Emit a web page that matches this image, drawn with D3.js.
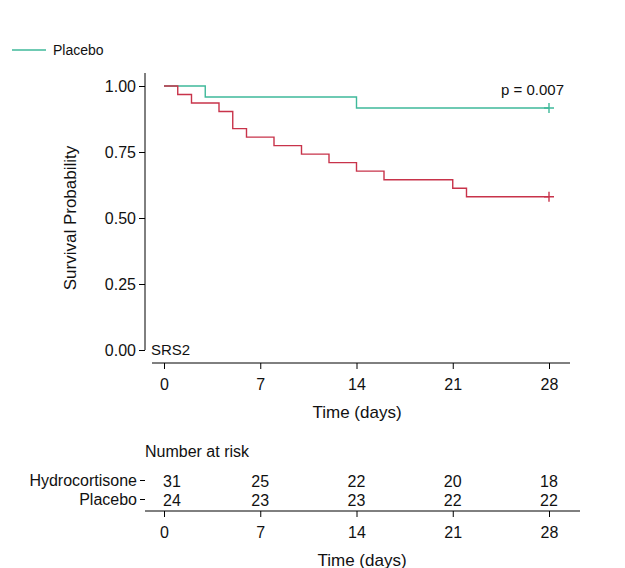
<!DOCTYPE html><html><head><meta charset="utf-8"><script src="https://cdn.jsdelivr.net/npm/d3@7"></script>
<style>body{margin:0;background:#fff}text{font-family:"Liberation Sans",Arial,sans-serif;fill:#111}</style></head><body>
<svg id="c" width="625" height="568"></svg>
<script>
const hydroTimes=[0,1,2,4,5,6,8,10,12,14,16,21,22,28];
const hydroSurv=[1,30/31,29/31,28/31,26/31,25/31,24/31,23/31,22/31,21/31,20/31,19/31,18/31,18/31];
const placeboTimes=[0,3,14,28];
const placeboSurv=[1,23/24,22/24,22/24];
const xTicks=[0,7,14,21,28];
const yTicks=[0,0.25,0.5,0.75,1];
const riskGroups=["Hydrocortisone","Placebo"];
const riskHydro=[31,25,22,20,18];
const riskPlacebo=[24,23,23,22,22];
const svg=d3.select("#c");
const x=d3.scaleLinear().domain([0,28]).range([164,549]);
const y=d3.scaleLinear().domain([0,1]).range([350,86]);
const red="#c8334a",green="#3fb99a";
svg.append("line").attr("x1",12).attr("x2",46).attr("y1",50).attr("y2",50).attr("stroke",green).attr("stroke-width",1.3);
svg.append("text").attr("x",53).attr("y",55).style("font-size","14px").text("Placebo");
const ya=svg.append("g").attr("transform","translate(145,0)").call(d3.axisLeft(y).tickValues(yTicks).tickFormat(d3.format(".2f")).tickSize(6));
ya.select(".domain").attr("d","M0,73V350");
ya.selectAll("text").style("font-size","16px").attr("x",-9);
const xa=svg.append("g").attr("transform","translate(0,363)").call(d3.axisBottom(x).tickValues(xTicks).tickSize(6));
xa.select(".domain").attr("d","M152,0H570");
xa.selectAll("text").style("font-size","16px").attr("dy","1.1em");
svg.append("text").attr("x",357).attr("y",418).attr("text-anchor","middle").style("font-size","17px").text("Time (days)");
svg.append("text").attr("transform","translate(76,218) rotate(-90)").attr("text-anchor","middle").style("font-size","17px").text("Survival Probability");
svg.append("text").attr("x",151).attr("y",355).style("font-size","15px").text("SRS2");
svg.append("text").attr("x",564).attr("y",95).attr("text-anchor","end").style("font-size","15px").text("p = 0.007");
const line=d3.line().x(d=>x(d[0])).y(d=>y(d[1])).curve(d3.curveStepAfter);
function curve(t,s,c){
 svg.append("path").attr("d",line(t.map((v,i)=>[v,s[i]]))).attr("fill","none").attr("stroke",c).attr("stroke-width",1.4);
 const lx=x(t[t.length-1]),ly=y(s[s.length-1]);
 svg.append("path").attr("d",`M${lx-5},${ly}H${lx+5}M${lx},${ly-5}V${ly+5}`).attr("stroke",c).attr("stroke-width",1.4);
}
curve(placeboTimes,placeboSurv,green);
curve(hydroTimes,hydroSurv,red);
svg.append("text").attr("x",145).attr("y",457).style("font-size","16px").text("Number at risk");
const ry=d3.scaleBand().domain(riskGroups).range([471,509]);
const ra=svg.append("g").attr("transform","translate(145,0)").call(d3.axisLeft(ry).tickSize(5));
ra.select(".domain").remove();
ra.selectAll("text").style("font-size","16px");
[riskHydro,riskPlacebo].forEach((r,i)=>r.forEach((v,j)=>svg.append("text").attr("x",j==0?x(0)-1:x(xTicks[j])).attr("y",ry(riskGroups[i])+ry.bandwidth()/2+6).attr("text-anchor",j==0?"start":"middle").style("font-size","16px").text(v)));
const xb=svg.append("g").attr("transform","translate(0,511)").call(d3.axisBottom(x).tickValues(xTicks).tickSize(6));
xb.select(".domain").attr("d","M145,0H580");
xb.selectAll("text").style("font-size","16px").attr("dy","1.1em");
svg.append("text").attr("x",362).attr("y",566).attr("text-anchor","middle").style("font-size","17px").text("Time (days)");
</script></body></html>
